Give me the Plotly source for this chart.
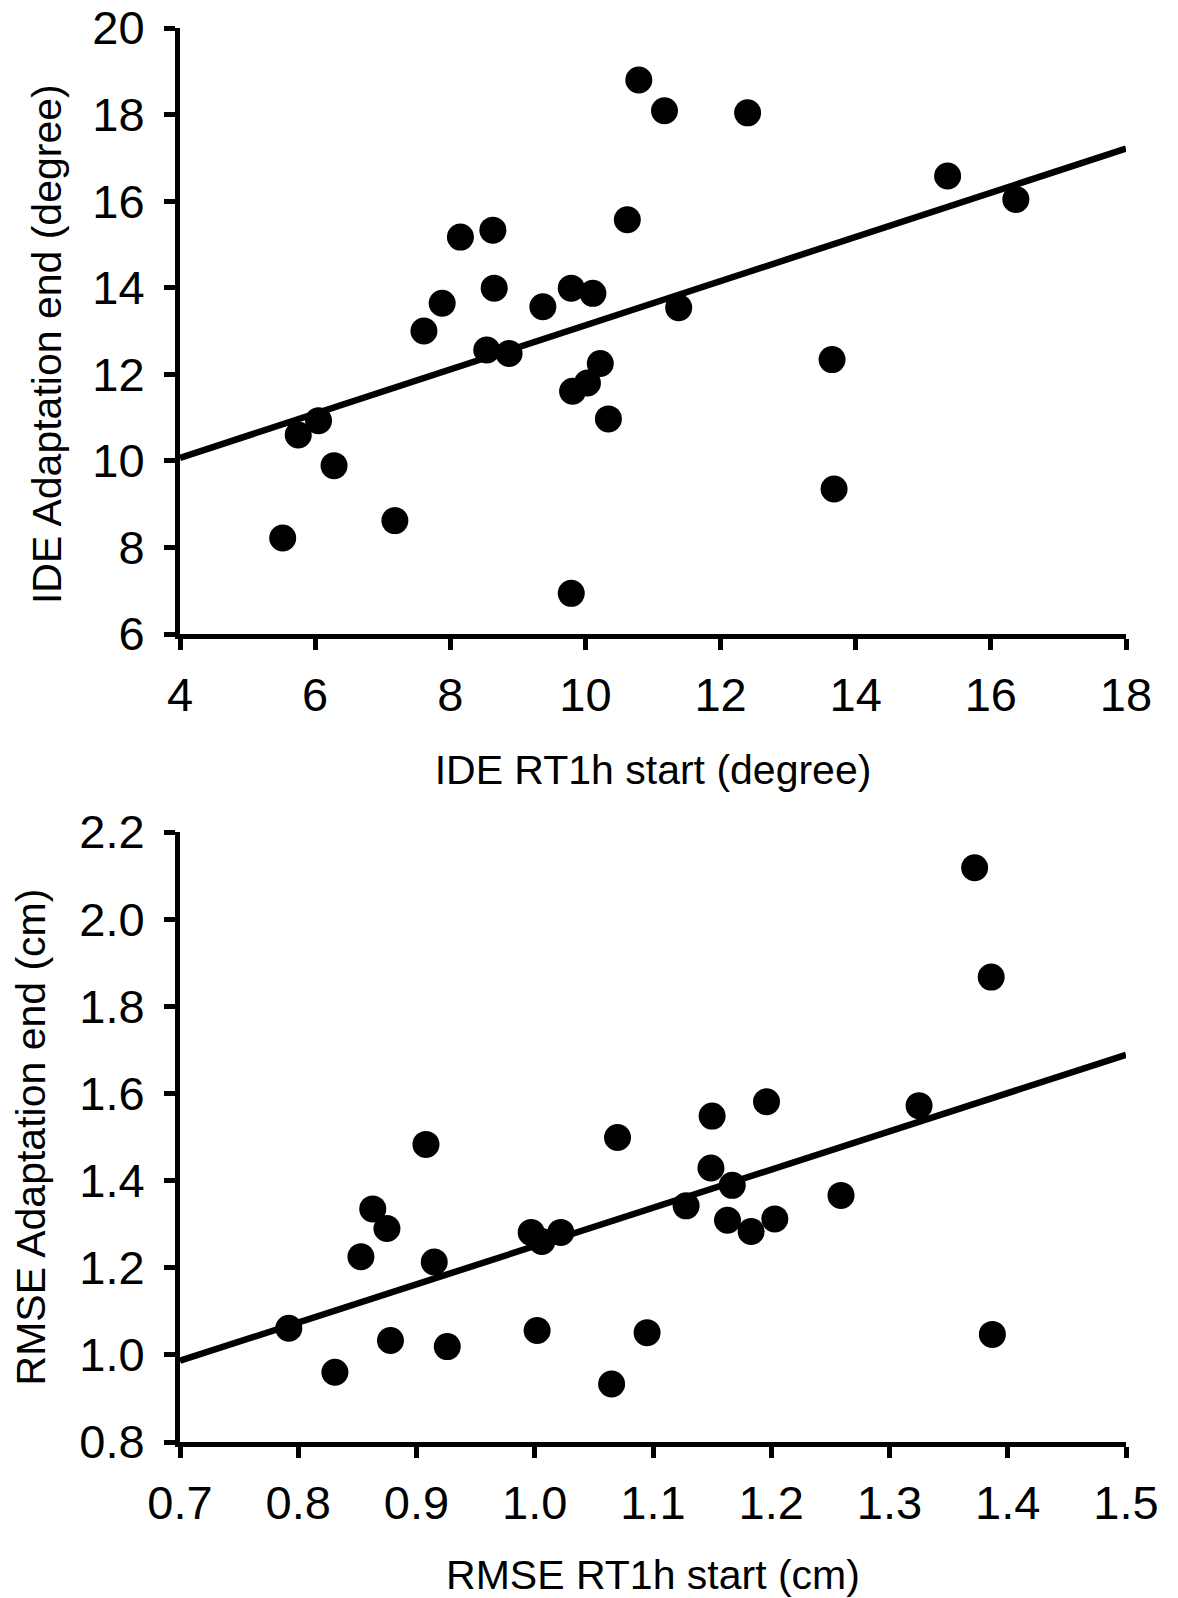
import numpy as np
import plotly.graph_objects as go
from plotly.subplots import make_subplots

# IDE (degree): RT1h start vs adaptation end
ide_start = [5.52, 5.75, 6.05, 6.28, 7.18, 7.61, 7.88, 8.15, 8.54, 8.63,
             8.65, 8.87, 9.37, 9.79, 9.81, 9.79, 10.03, 10.11, 10.22, 10.34,
             10.62, 10.79, 11.17, 11.38, 12.40, 13.65, 13.68, 15.36, 16.37]
ide_end = [8.22, 10.60, 10.93, 9.89, 8.62, 13.00, 13.64, 15.17, 12.56, 15.33,
           13.99, 12.48, 13.56, 13.99, 11.61, 6.94, 11.80, 13.87, 12.25, 10.97,
           15.57, 18.80, 18.09, 13.54, 18.04, 12.34, 9.35, 16.58, 16.04]

# RMSE (cm): RT1h start vs adaptation end
rmse_start = [0.792, 0.831, 0.853, 0.863, 0.875, 0.878, 0.908, 0.915, 0.926, 0.997,
              1.002, 1.006, 1.022, 1.065, 1.070, 1.095, 1.128, 1.149, 1.150, 1.163,
              1.167, 1.183, 1.196, 1.203, 1.259, 1.325, 1.372, 1.386, 1.387]
rmse_end = [1.061, 0.960, 1.225, 1.335, 1.290, 1.033, 1.483, 1.213, 1.019, 1.281,
            1.056, 1.260, 1.281, 0.933, 1.499, 1.051, 1.342, 1.429, 1.548, 1.309,
            1.389, 1.283, 1.581, 1.312, 1.366, 1.572, 2.118, 1.867, 1.047]

ide_xrange = [4, 18]
ide_yrange = [6, 20]
rmse_xrange = [0.7, 1.5]
rmse_yrange = [0.8, 2.2]

FONT = "Arial, Liberation Sans, sans-serif"
TICK_SIZE = 47
TITLE_SIZE = 41

fig = make_subplots(rows=2, cols=1, vertical_spacing=0.14)


def add_panel(row, xs, ys, xr):
    fig.add_trace(go.Scatter(
        x=xs, y=ys, mode="markers",
        marker=dict(color="black", size=27, line=dict(width=0)),
        showlegend=False, cliponaxis=False), row=row, col=1)
    # least-squares regression line across the full x range
    slope, intercept = np.polyfit(xs, ys, 1)
    lx = np.array(xr, dtype=float)
    fig.add_trace(go.Scatter(
        x=lx, y=slope * lx + intercept, mode="lines",
        line=dict(color="black", width=6.5),
        showlegend=False, cliponaxis=False), row=row, col=1)


add_panel(1, ide_start, ide_end, ide_xrange)
add_panel(2, rmse_start, rmse_end, rmse_xrange)

axis_common = dict(
    showline=True, linecolor="black", linewidth=5,
    ticks="outside", ticklen=11, tickwidth=5, tickcolor="black",
    showgrid=False, zeroline=False, mirror=False,
    tickfont=dict(family=FONT, size=TICK_SIZE, color="black"),
)

fig.update_xaxes(axis_common)
fig.update_yaxes(axis_common)

title_font = dict(family=FONT, size=TITLE_SIZE, color="black")

fig.update_xaxes(row=1, col=1, range=ide_xrange, dtick=2, tick0=4,
                 ticklabelstandoff=5,
                 title=dict(text="IDE RT1h start (degree)", standoff=36,
                            font=title_font))
fig.update_yaxes(row=1, col=1, range=ide_yrange, dtick=2, tick0=6,
                 ticklabelstandoff=10)
fig.update_xaxes(row=2, col=1, range=rmse_xrange, dtick=0.1, tick0=0.7,
                 tickformat=".1f", ticklabelstandoff=5,
                 title=dict(text="RMSE RT1h start (cm)", standoff=36,
                            font=title_font))
fig.update_yaxes(row=2, col=1, range=rmse_yrange, dtick=0.2, tick0=0.8,
                 tickformat=".1f", ticklabelstandoff=10,
                 title=dict(text="RMSE Adaptation end (cm)", standoff=22,
                            font=title_font))

# upper panel's vertical title, set slightly below the panel centre
fig.add_annotation(
    text="IDE Adaptation end (degree)", textangle=-90,
    xref="paper", x=0, xanchor="center", xshift=-133,
    yref="y domain", y=0.5, yanchor="middle", yshift=-13,
    showarrow=False, font=title_font,
)

fig.update_layout(
    width=1178, height=1598,
    margin=dict(l=180, r=52, t=28, b=156, autoexpand=False),
    paper_bgcolor="white", plot_bgcolor="white",
    font=dict(family=FONT, color="black"),
)
fig.update_layout(
    yaxis=dict(domain=[0.5714, 1.0]),
    yaxis2=dict(domain=[0.0, 0.4314]),
)

fig.write_html("out.html")
